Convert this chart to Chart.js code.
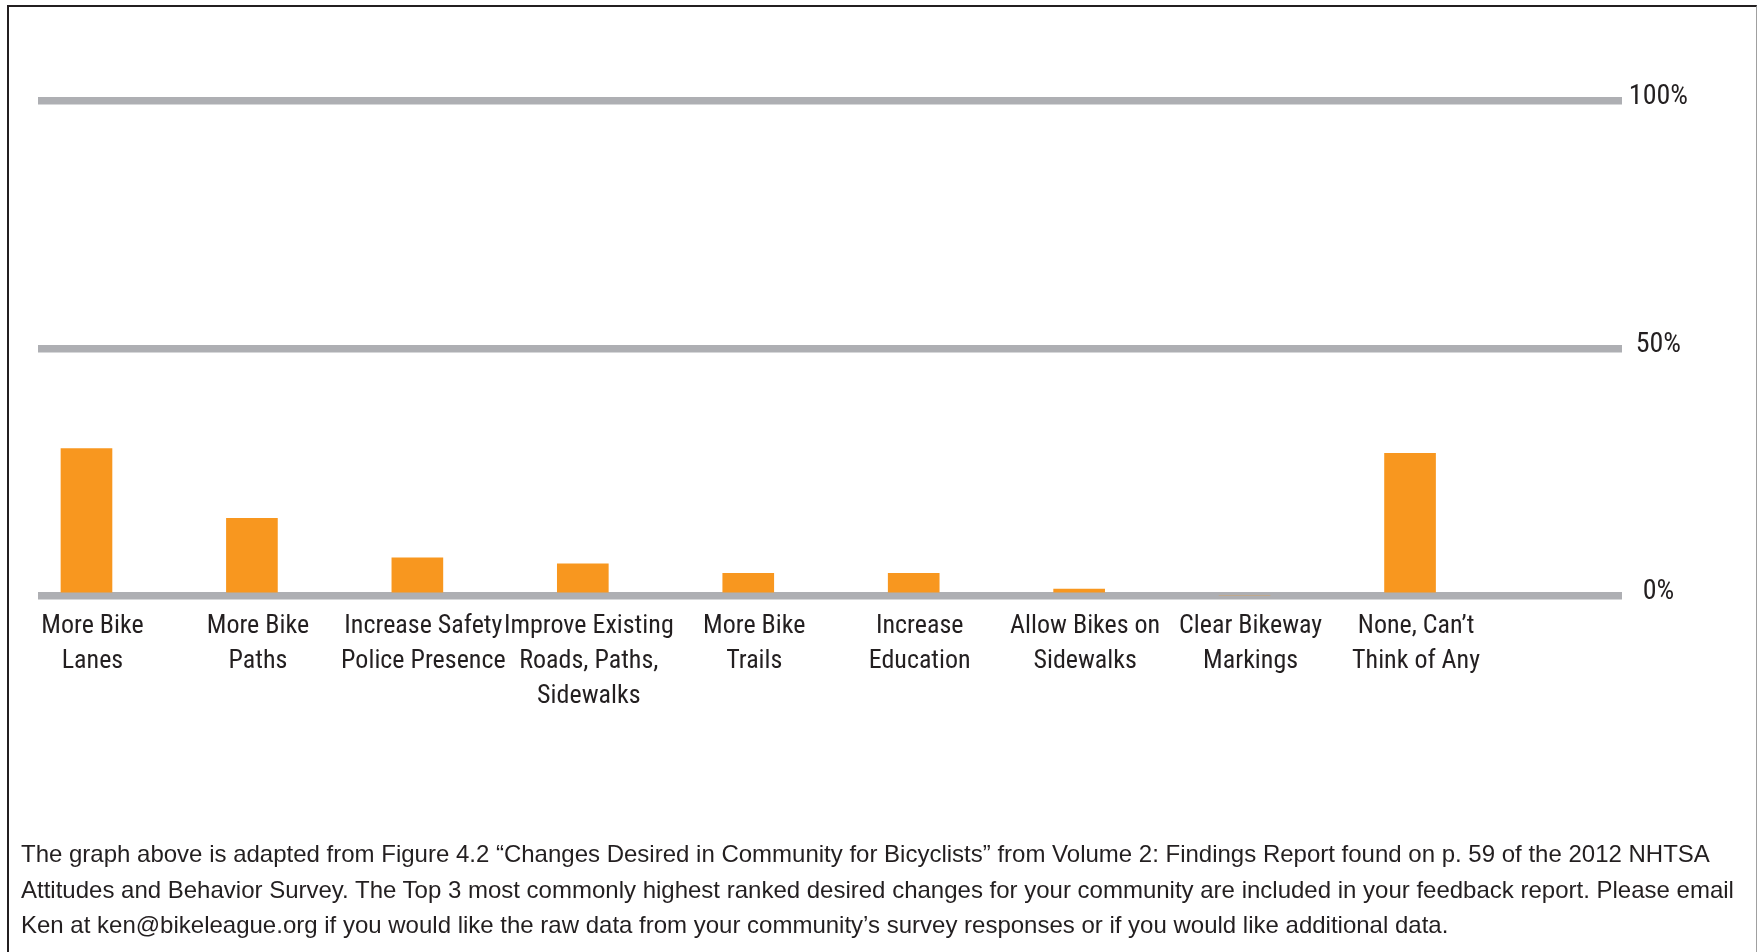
<!DOCTYPE html>
<html lang="en">
<head>
<meta charset="UTF-8">
<title>Changes Desired in Community for Bicyclists</title>
<script src="https://cdn.jsdelivr.net/npm/chart.js@4.4.0/dist/chart.umd.min.js"></script>
<style>
    html, body { margin: 0; padding: 0; background: #fff; }
    body { width: 1758px; height: 952px; position: relative; overflow: hidden; }
    #frame {
        position: absolute; left: 7px; top: 5px; width: 1750px; height: 1000px;
        box-sizing: border-box;
        border-top: 2.5px solid #231f20;
        border-left: 2.5px solid #231f20;
        border-right: 1.5px solid #a0a0a0;
    }
    #chartBox { position: absolute; left: 0; top: 0; width: 1758px; height: 952px; }
    #note {
        position: absolute; left: 21px; top: 836px;
        font: 24px 'Liberation Sans', Arial, sans-serif;
        line-height: 35.5px; color: #231f20; white-space: nowrap;
    }
</style>
</head>
<body>
<div id="frame"></div>
<div id="chartBox"><canvas id="changesChart"></canvas></div>
<div id="note">
    The graph above is adapted from Figure 4.2 “Changes Desired in Community for Bicyclists” from Volume 2: Findings Report found on p. 59 of the 2012 NHTSA<br>
    Attitudes and Behavior Survey. The Top 3 most commonly highest ranked desired changes for your community are included in your feedback report. Please email<br>
    Ken at ken@bikeleague.org if you would like the raw data from your community’s survey responses or if you would like additional data.
</div>
<script>
// 類別 (每個陣列是一個標籤的多行文字)
const categories = [
    ['More Bike', 'Lanes'],
    ['More Bike', 'Paths'],
    ['Increase Safety', 'Police Presence'],
    ['Improve Existing', 'Roads, Paths,', 'Sidewalks'],
    ['More Bike', 'Trails'],
    ['Increase', 'Education'],
    ['Allow Bikes on', 'Sidewalks'],
    ['Clear Bikeway', 'Markings'],
    ['None, Can’t', 'Think of Any']
];

// 各項比例 (%)
const shares = [29.8, 15.7, 7.7, 6.5, 4.6, 4.6, 1.4, 0, 28.8];

// 右側刻度
const yTicks = [0, 50, 100];

const LABEL_FONT = "'Roboto Condensed', 'DejaVu Sans Condensed', sans-serif";
const INK = '#231f20';

const ctx = document.getElementById('changesChart').getContext('2d');
new Chart(ctx, {
    type: 'bar',
    data: {
        datasets: [{
            data: shares.map((v, i) => ({ x: i, y: v })),
            backgroundColor: '#f8971f',
            barThickness: 51
        }]
    },
    options: {
        responsive: true,
        maintainAspectRatio: false,
        animation: false,
        layout: { padding: { left: 38, right: 63, top: 101, bottom: 233 } },
        plugins: {
            legend: { display: false },
            tooltip: { enabled: false }
        },
        scales: {
            x: {
                type: 'linear',
                offset: false,
                min: -0.293,
                max: 9.28,
                grid: { display: false },
                border: { display: false },
                afterBuildTicks: scale => {
                    scale.ticks = categories.map((_, i) => ({ value: i }));
                },
                ticks: {
                    autoSkip: false,
                    maxRotation: 0,
                    padding: 5,
                    labelOffset: 6,
                    color: INK,
                    font: { family: LABEL_FONT, size: 26, lineHeight: 1.346 },
                    callback: v => categories[v]
                }
            },
            y: {
                position: 'right',
                min: 0,
                max: 100,
                z: 1, // 格線畫在長條上方
                afterBuildTicks: scale => {
                    scale.ticks = yTicks.map(v => ({ value: v }));
                },
                grid: { color: '#aeafb3', lineWidth: 7.5, drawTicks: false },
                border: { display: false },
                ticks: {
                    padding: 7,
                    labelOffset: -4,
                    crossAlign: 'center',
                    color: INK,
                    font: { family: LABEL_FONT, size: 28 },
                    callback: v => v + '%'
                }
            }
        }
    }
});
</script>
</body>
</html>
